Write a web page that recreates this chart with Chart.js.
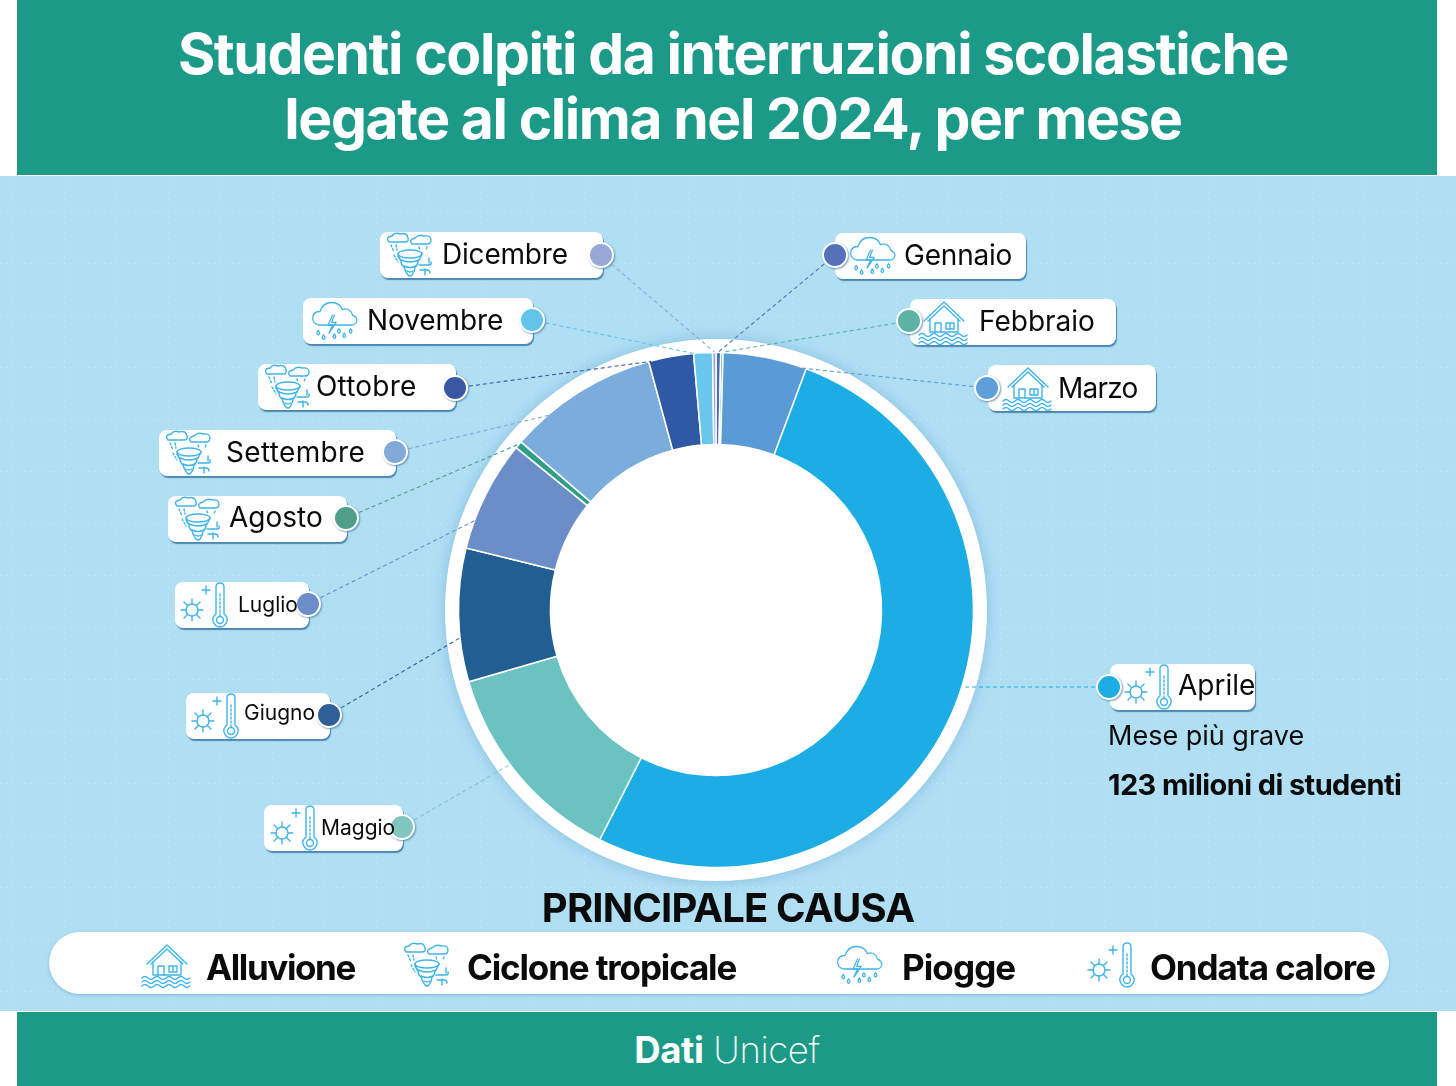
<!DOCTYPE html>
<html lang="it">

<head>
  <meta charset="UTF-8">
  <title>Studenti colpiti da interruzioni scolastiche</title>
  <script src="https://cdn.jsdelivr.net/npm/chart.js"></script>
  <style>
    html, body { margin: 0; padding: 0; background: #fff; }
    body { position: relative; width: 1456px; height: 1086px; overflow: hidden; font-family: Inter, "Noto Sans", sans-serif; color: #0b0b0b; }
    .abs { position: absolute; }
    #sfondo { left: 0; top: 176px; width: 1456px; height: 835px; background: #b0dff4; }
    #griglia { left: 0; top: 176px; }
    #fascia-alta { left: 17px; top: 0; width: 1420px; height: 175px; background: #1c9a88; }
    #fascia-bassa { left: 17px; top: 1012px; width: 1420px; height: 74px; background: #1c9a88; color: #fff; text-align: center; font-size: 36.5px; line-height: 76px; letter-spacing: -0.4px; }
    #fascia-bassa b { font-weight: 700; }
    #fascia-bassa span { font-weight: 200; }
    #titolo { left: 23px; top: 21px; width: 1420px; margin: 0; color: #fff; font-size: 57px; line-height: 65px; font-weight: 700; text-align: center; letter-spacing: -1.4px; }
    #anello { left: 445px; top: 339px; width: 542px; height: 542px; border-radius: 50%; background: #fff; box-shadow: 0 0 14px rgba(70, 140, 190, .4); }
    #grafico { left: 0; top: 0; }
    .card { position: absolute; background: #fff; border-radius: 8px; box-shadow: 1px 2px 1px rgba(60, 120, 165, .85); height: 46px; font-size: 28px; line-height: 46px; white-space: nowrap; }
    .card span { position: absolute; z-index: 2; }
    .card svg { position: absolute; z-index: 2; top: 0; width: 52px; height: 46px; }
    .punto { position: absolute; z-index: 1; width: 22px; height: 22px; border-radius: 50%; border: 2px solid #fff; box-shadow: 1px 1px 2px rgba(60, 110, 150, .7); }
    #causa { left: 0; top: 884px; width: 1456px; text-align: center; font-size: 40px; line-height: 48px; font-weight: 700; letter-spacing: -0.85px; }
    #pillola { left: 49px; top: 932px; width: 1340px; height: 62px; border-radius: 31px; background: #fff; box-shadow: 0 1px 3px rgba(70, 140, 190, .5); }
    .voce { position: absolute; top: 946px; font-size: 35px; line-height: 42px; font-weight: 700; white-space: nowrap; }
    .icona-voce { position: absolute; top: 941px; width: 52px; height: 48px; }
    #grave { left: 1108px; top: 716px; font-size: 27px; line-height: 40px; }
    #milioni { left: 1108px; top: 765px; font-size: 29px; line-height: 40px; font-weight: 700; letter-spacing: -0.6px; }
    .tratto { fill: none; stroke: #3fb4ea; stroke-width: 1.4; stroke-linecap: round; stroke-linejoin: round; }
  </style>
</head>

<body>
  <!-- icone delle cause -->
  <svg width="0" height="0" style="position:absolute">
    <defs>
      <symbol id="alluvione" viewBox="0 0 52 46">
        <g class="tratto">
          <path d="M6 22 L26 3 L46 22 M10 22 L26 7 L42 22" />
          <path d="M12 20 V33 H40 V20" />
          <path d="M17 33 V24 H23 V33 M28 24 H36 V30 H28 Z M32 24 V30" />
          <path d="M1 36 q3 -3 6 0 t6 0 t6 0 t6 0 t6 0 t6 0 t6 0 t6 0" />
          <path d="M1 40 q3 -3 6 0 t6 0 t6 0 t6 0 t6 0 t6 0 t6 0 t6 0" />
          <path d="M1 44 q3 -3 6 0 t6 0 t6 0 t6 0 t6 0 t6 0 t6 0 t6 0" />
        </g>
      </symbol>
      <symbol id="ciclone" viewBox="0 0 52 46">
        <g class="tratto">
          <path d="M3 10 q-4 -5 3 -6 q3 -4 8 -2 q7 -2 8 4 q1 4 -3 4 Z" />
          <path d="M26 12 q-4 -4 3 -6 q4 -4 9 -2 q7 -1 7 4 q0 4 -4 4 Z" />
          <path d="M5 13 l3 7 M10 13 l1 5 M8 23 l4 7 M12 24 l3 4 M33 15 l1 3 M41 15 l-1 3" stroke-dasharray="2 2" />
          <ellipse cx="24" cy="22" rx="12" ry="4" />
          <path d="M12 22 q1 5 3 7 q0 4 3 6 q1 4 4 8 q2 2 4 0 q3 -4 3 -8 q3 -2 3 -6 q2 -2 4 -7" />
          <path d="M15 28 q9 4 18 0 M18 34 q6 3 12 0 M21 39 q3 2 6 0" />
          <path d="M33 33 h10 q3 0 2 -3 M34 38 h7 q3 0 3 3 M43 26 v5 M39 37 v6" />
        </g>
      </symbol>
      <symbol id="pioggia" viewBox="0 0 52 46">
        <g class="tratto" transform="scale(.9)">
          <path d="M8 30 q-7 -2 -6 -9 q1 -6 8 -6 q3 -10 13 -10 q9 0 12 8 q4 -2 8 1 q3 2 3 5 q5 2 5 6 q-1 5 -6 5 H8" />
          <path d="M24 19 l-5 11 h5 l-4 9 l8 -12 h-5 l3 -8" />
          <path d="M8 36 q-3 4 0 5 q3 -1 0 -5 M14 41 q-3 4 0 5 q3 -1 0 -5 M31 34 q-3 4 0 5 q3 -1 0 -5 M37 39 q-3 4 0 5 q3 -1 0 -5 M44 34 q-3 4 0 5 q3 -1 0 -5 M26 40 q-3 4 0 5 q3 -1 0 -5" />
        </g>
      </symbol>
      <symbol id="caldo" viewBox="0 0 52 46">
        <g class="tratto">
          <circle cx="13" cy="28" r="6" />
          <path d="M13 17 v5 M13 34 v5 M2 28 h5 M19 28 h5 M5 20 l3.500 3.500 M21 20 l-3.500 3.500 M5 36 l3.500 -3.500 M21 36 l-3.500 -3.500" />
          <path d="M23 8 h8 M27 4 v8" />
          <path d="M37 32 V5 q0 -4 4 -4 q4 0 4 4 V32 q4 3 3 7 q-2 6 -7 6 q-5 0 -7 -6 q-1 -4 3 -7 Z" />
          <circle cx="41" cy="38" r="3.500" />
          <path d="M41 34 V10" stroke-dasharray="2 2" />
        </g>
      </symbol>
      <pattern id="puntini" width="52" height="52" patternUnits="userSpaceOnUse">
        <g fill="#ffffff" fill-opacity=".4">
          <rect x="0" y="35" width="1" height="1" /><rect x="6" y="35" width="1" height="1" /><rect x="12" y="35" width="1" height="1" />
          <rect x="18" y="35" width="1" height="1" /><rect x="24" y="35" width="1" height="1" /><rect x="30" y="35" width="1" height="1" />
          <rect x="36" y="35" width="1" height="1" /><rect x="42" y="35" width="1" height="1" /><rect x="48" y="35" width="1" height="1" />
          <rect x="12" y="5" width="1" height="1" /><rect x="12" y="11" width="1" height="1" /><rect x="12" y="17" width="1" height="1" />
          <rect x="12" y="23" width="1" height="1" /><rect x="12" y="29" width="1" height="1" /><rect x="12" y="41" width="1" height="1" />
          <rect x="12" y="47" width="1" height="1" />
        </g>
      </pattern>
    </defs>
  </svg>

  <div id="fascia-alta" class="abs"></div>
  <h1 id="titolo" class="abs">Studenti colpiti da interruzioni scolastiche<br>legate al clima nel 2024, per mese</h1>
  <div id="sfondo" class="abs"></div>
  <svg id="griglia" class="abs" width="1456" height="835"><rect width="1456" height="835" fill="url(#puntini)" /></svg>
  <div id="anello" class="abs"></div>
  <canvas id="grafico" class="abs" width="1456" height="1086"></canvas>
  <div id="etichette"></div>

  <div id="grave" class="abs">Mese più grave</div>
  <div id="milioni" class="abs">123 milioni di studenti</div>

  <div id="causa" class="abs">PRINCIPALE CAUSA</div>
  <div id="pillola" class="abs"></div>
  <div id="voci"></div>

  <div id="fascia-bassa" class="abs"><b>Dati</b> <span>Unicef</span></div>

  <script>
    // Dati: milioni di studenti per mese, in senso orario da gennaio
    const mesi = ['Gennaio', 'Febbraio', 'Marzo', 'Aprile', 'Maggio', 'Giugno', 'Luglio', 'Agosto', 'Settembre', 'Ottobre', 'Novembre', 'Dicembre'];
    const studenti = [0.7, 0.35, 12.5, 123, 31, 19.9, 16.6, 1.1, 22.5, 6.7, 2.8, 0.5];
    const causaMese = ['pioggia', 'alluvione', 'alluvione', 'caldo', 'caldo', 'caldo', 'caldo', 'ciclone', 'ciclone', 'ciclone', 'pioggia', 'ciclone'];
    const cause = ['alluvione', 'ciclone', 'pioggia', 'caldo'];
    const nomiCause = ['Alluvione', 'Ciclone tropicale', 'Piogge', 'Ondata calore'];

    // Colori
    const coloriFette = ['#4c6db5', '#5cb3a6', '#5b9bd5', '#1cade4', '#6bc3c1', '#215f93', '#6b8ec9', '#2e9e88', '#7aaddc', '#2f59a5', '#69c6ec', '#9aaad6'];
    const coloriPunti = ['#5572b8', '#5cb3a6', '#5f9fd8', '#1cade4', '#80c6c0', '#2f5f96', '#6b8ec9', '#4f9e8a', '#83a9d8', '#3a57a2', '#62c4ea', '#98a8d6'];

    // Posizione delle etichette: riquadro, punto, icona e testo (x relative al riquadro)
    const riquadri = [
      { x: 835, y: 233, w: 191, icona: 14, testo: 69, corpo: 28, dy: -1.5, sp: -0.2, puntoX: 835, puntoY: 255 },
      { x: 910, y: 299, w: 206, icona: 8, testo: 69, corpo: 28, dy: -1.5, sp: 0, puntoX: 909, puntoY: 321 },
      { x: 988, y: 365, w: 168, icona: 14, testo: 70, corpo: 28, dy: 0, sp: -0.8, puntoX: 987, puntoY: 388 },
      { x: 1110, y: 664, w: 145, icona: 13, testo: 68, corpo: 28, dy: -2, sp: 0, puntoX: 1109, puntoY: 687 },
      { x: 264, y: 805, w: 139, icona: 5, testo: 57, corpo: 21, dy: 0, sp: 0, puntoX: 402, puntoY: 827 },
      { x: 186, y: 693, w: 144, icona: 4, testo: 58, corpo: 21, dy: -3, sp: 0, puntoX: 329, puntoY: 715 },
      { x: 175, y: 582, w: 134, icona: 4, testo: 63, corpo: 21, dy: 0, sp: 0, puntoX: 308, puntoY: 604 },
      { x: 168, y: 496, w: 179, icona: 6, testo: 61, corpo: 28, dy: -2, sp: 0, puntoX: 346, puntoY: 518 },
      { x: 159, y: 430, w: 237, icona: 6, testo: 67, corpo: 28, dy: -1.5, sp: 0.35, puntoX: 395, puntoY: 452 },
      { x: 258, y: 364, w: 198, icona: 6, testo: 58, corpo: 28, dy: -1.5, sp: 0.2, puntoX: 455, puntoY: 388 },
      { x: 303, y: 298, w: 230, icona: 8, testo: 64, corpo: 28, dy: -1, sp: -0.1, puntoX: 532, puntoY: 320 },
      { x: 380, y: 232, w: 223, icona: 6, testo: 62, corpo: 28, dy: -1, sp: -0.2, puntoX: 601, puntoY: 255 }
    ];

    // Dove ogni linea tratteggiata tocca la fetta: frazione dell'arco e raggio
    const attacchi = [
      { t: 0.5, r: 258 }, { t: 1, r: 258 }, { t: 0.86, r: 255 }, { t: 0.465, r: 261 },
      { t: 0.56, r: 258 }, { t: 0.35, r: 252 }, { t: 0.37, r: 246 }, { t: 0.5, r: 258 },
      { t: 0.26, r: 256 }, { t: 0.05, r: 257 }, { t: 0.48, r: 255 }, { t: 0.5, r: 258 }
    ];

    const vociLegenda = [
      { icona: 141, testo: 206, sp: -1.4 }, { icona: 403, testo: 467, sp: -1.15 }, { icona: 836, testo: 902, sp: -0.9 }, { icona: 1086, testo: 1150, sp: -1.1 }
    ];

    // Linee tratteggiate dal punto dell'etichetta alla fetta
    const pluginLinee = {
      id: 'linee',
      afterDraw: function (chart) {
        var ctx = chart.ctx;
        var archi = chart.getDatasetMeta(0).data;
        ctx.save();
        ctx.lineWidth = 1.1;
        ctx.setLineDash([4, 3]);
        for (var i = 0; i < archi.length; i++) {
          var a = archi[i];
          var angolo = a.startAngle + attacchi[i].t * (a.endAngle - a.startAngle);
          ctx.strokeStyle = coloriPunti[i];
          ctx.beginPath();
          ctx.moveTo(riquadri[i].puntoX, riquadri[i].puntoY);
          ctx.lineTo(a.x + attacchi[i].r * Math.cos(angolo), a.y + attacchi[i].r * Math.sin(angolo));
          ctx.stroke();
        }
        ctx.restore();
      }
    };

    new Chart(document.getElementById('grafico').getContext('2d'), {
      type: 'doughnut',
      data: {
        labels: mesi,
        datasets: [{
          data: studenti,
          backgroundColor: coloriFette,
          borderColor: '#ffffff',
          borderWidth: 1.5
        }]
      },
      options: {
        responsive: false,
        animation: false,
        cutout: '64.3%',
        layout: { padding: { left: 457.75, right: 481.75, top: 351.75, bottom: 217.75 } },
        plugins: { legend: { display: false }, tooltip: { enabled: false } }
      },
      plugins: [pluginLinee]
    });

    // Etichette dei mesi
    var html = '';
    for (var i = 0; i < mesi.length; i++) {
      var q = riquadri[i];
      html += '<div class="card" style="left:' + q.x + 'px;top:' + q.y + 'px;width:' + q.w + 'px;font-size:' + q.corpo + 'px">';
      html += '<svg style="left:' + q.icona + 'px"><use href="#' + causaMese[i] + '"></use></svg>';
      html += '<span style="left:' + q.testo + 'px;top:' + q.dy + 'px;letter-spacing:' + q.sp + 'px">' + mesi[i] + '</span></div>';
      html += '<div class="punto" style="left:' + (q.puntoX - 13) + 'px;top:' + (q.puntoY - 13) + 'px;background:' + coloriPunti[i] + '"></div>';
    }
    document.getElementById('etichette').innerHTML = html;

    // Legenda delle cause
    var htmlVoci = '';
    for (var c = 0; c < cause.length; c++) {
      htmlVoci += '<svg class="icona-voce" style="left:' + vociLegenda[c].icona + 'px"><use href="#' + cause[c] + '"></use></svg>';
      htmlVoci += '<div class="voce" style="left:' + vociLegenda[c].testo + 'px;letter-spacing:' + vociLegenda[c].sp + 'px">' + nomiCause[c] + '</div>';
    }
    document.getElementById('voci').innerHTML = htmlVoci;
  </script>
</body>

</html>
